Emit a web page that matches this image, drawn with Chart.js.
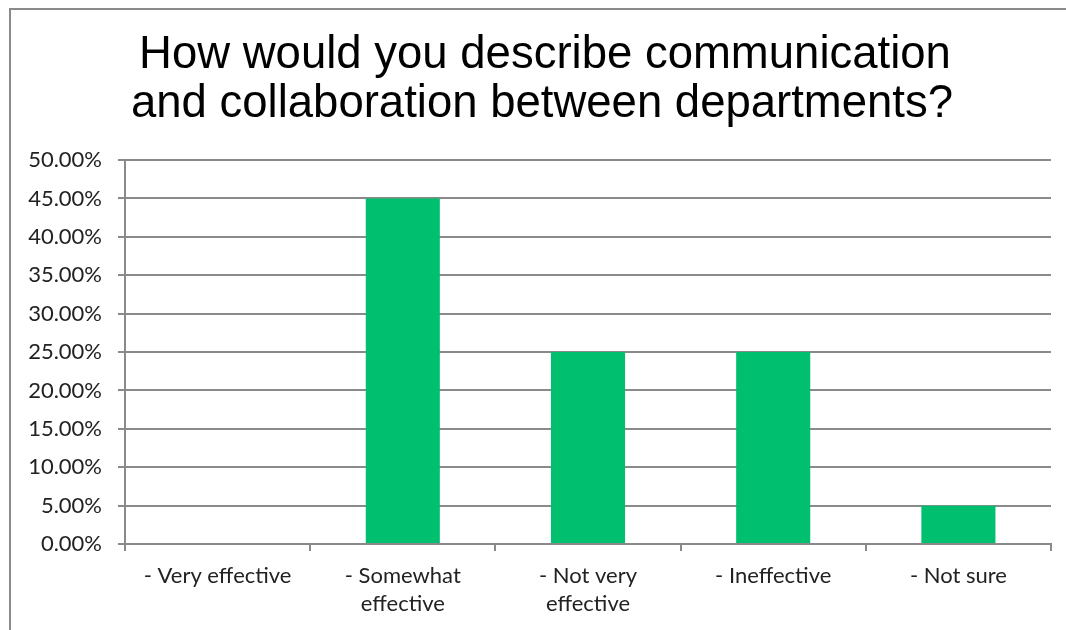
<!DOCTYPE html>
<html>
<head>
<meta charset="utf-8">
<script src="https://cdn.jsdelivr.net/npm/chart.js@4/dist/chart.umd.min.js"></script>
<style>
  html, body { margin: 0; padding: 0; background: #fff; overflow: hidden; }
  #wrap { position: relative; width: 1066px; height: 630px; }
  #frame {
    position: absolute; left: 9px; top: 8px;
    width: 1200px; height: 800px;
    border: 2px solid #8a8a8a;
  }
  #chart { position: absolute; left: 0; top: 0; }
</style>
</head>
<body>
<div id="wrap">
  <div id="frame"></div>
  <canvas id="chart" width="1066" height="630"></canvas>
</div>
<script>
// survey answers and share of responses (%)
const titleLines = ["How would you describe communication", "and collaboration between departments?"];
const categories = [
  ["- Very effective"],
  ["- Somewhat", "effective"],
  ["- Not very", "effective"],
  ["- Ineffective"],
  ["- Not sure"]
];
const shares = [0, 45, 25, 25, 5];
const yMin = 0;
const yMax = 50;
const yStep = 5;

const gridColor = "#8a8a8a";

// two-line heading, centred a bit right of the canvas middle
const headingPlugin = {
  id: "heading",
  afterDraw(chart) {
    const c = chart.ctx;
    c.save();
    c.fillStyle = "#000";
    c.font = "45.5px 'Liberation Sans', Arial, sans-serif";
    c.textAlign = "center";
    c.textBaseline = "alphabetic";
    c.fillText(titleLines[0], 545, 68);
    c.fillText(titleLines[1], 542, 117);
    c.restore();
  },
};

const ctx = document.getElementById("chart").getContext("2d");
new Chart(ctx, {
  type: "bar",
  data: {
    labels: categories,
    datasets: [
      {
        data: shares,
        backgroundColor: "#00bf6f",
        borderWidth: 0,
        categoryPercentage: 1,
        barPercentage: 0.4,
      },
    ],
  },
  plugins: [headingPlugin],
  options: {
    responsive: false,
    animation: false,
    layout: {
      padding: { left: 0, right: 15, top: 160, bottom: 1 },
    },
    plugins: {
      legend: { display: false },
      tooltip: { enabled: false },
      title: { display: false },
    },
    scales: {
      y: {
        min: yMin,
        max: yMax,
        ticks: {
          stepSize: yStep,
          color: "#222",
          padding: 16,
          font: { family: "Lato, 'Open Sans', sans-serif", size: 22 },
          callback: (v) => v.toFixed(2) + "%",
        },
        grid: {
          color: gridColor,
          lineWidth: 2,
          tickLength: 7,
          drawTicks: true,
        },
        border: { color: gridColor, width: 2 },
        afterFit: (scale) => {
          scale.width = 125;
        },
      },
      x: {
        ticks: {
          color: "#222",
          padding: 11,
          maxRotation: 0,
          autoSkip: false,
          font: { family: "Lato, 'Open Sans', sans-serif", size: 22, lineHeight: 1.27 },
        },
        grid: {
          offset: true,
          drawOnChartArea: false,
          drawTicks: true,
          tickLength: 7,
          color: gridColor,
          lineWidth: 2,
        },
        border: { color: gridColor, width: 2 },
      },
    },
  },
});
</script>
</body>
</html>
